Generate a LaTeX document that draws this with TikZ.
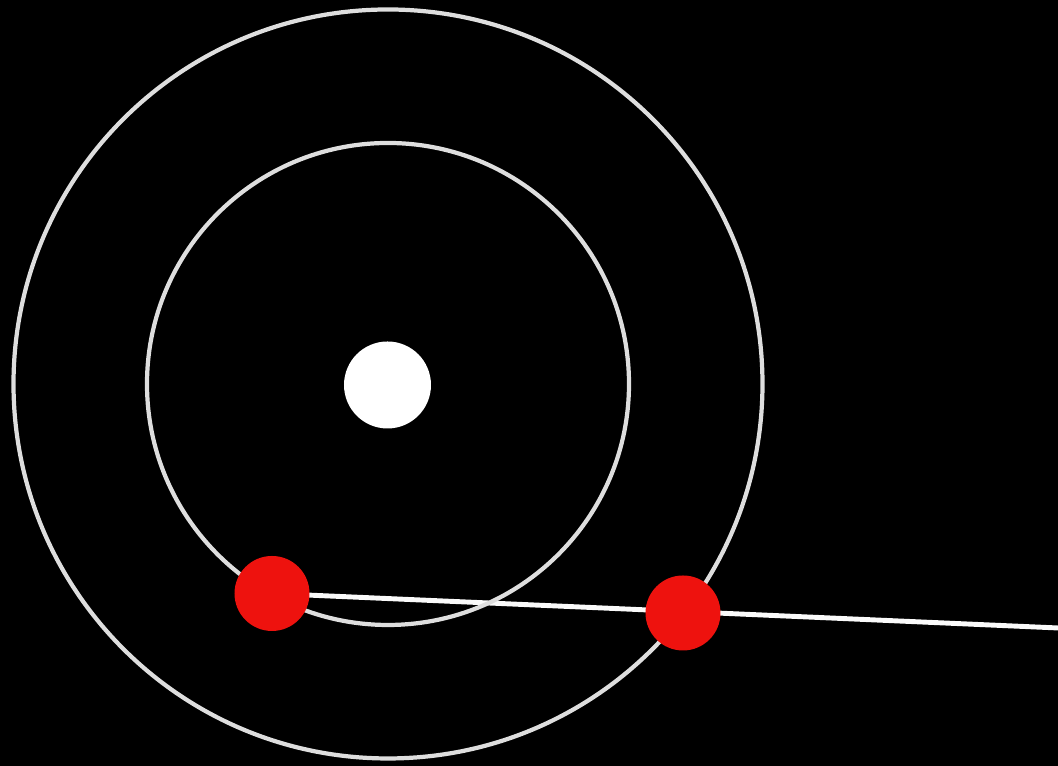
\documentclass[tikz,border=0pt]{standalone}
\usepackage{xcolor}
\usetikzlibrary{positioning}

\definecolor{orbitgray}{RGB}{222,222,222}
\definecolor{planetred}{RGB}{238,18,14}

\pgfdeclarelayer{backdrop}
\pgfdeclarelayer{beam}
\pgfsetlayers{backdrop,beam,main}

\begin{document}
\begin{tikzpicture}[
    orbit/.style={draw=orbitgray, line width=1.2pt},
    star/.style={circle, fill=white, inner sep=0pt, minimum size=0.87cm},
    planet/.style={circle, fill=planetred, inner sep=0pt, minimum size=0.75cm},
    sightline/.style={draw=white!96!gray, line width=1.4pt}
]

% Backdrop
\begin{pgfonlayer}{backdrop}
\fill[black] (0,0) rectangle (10.58,7.66);
\end{pgfonlayer}
\useasboundingbox (0,0) rectangle (10.58,7.66);

% Orbits round the sun
\coordinate (centre) at (3.88,3.82);
\draw[orbit] (centre) circle (2.41);
\draw[orbit] (centre) circle (3.745);

\node[star] (sun) at (3.875,3.81) {};

% Planets on the orbits
\node[planet] (inner) at (2.72,1.725) {};
\node[planet] (outer) at (6.83,1.53) {};

% Line of sight
\coordinate (farend) at (10.58,1.38);
\begin{pgfonlayer}{beam}
\draw[sightline] (inner.center) -- (farend);
\end{pgfonlayer}

\end{tikzpicture}
\end{document}
